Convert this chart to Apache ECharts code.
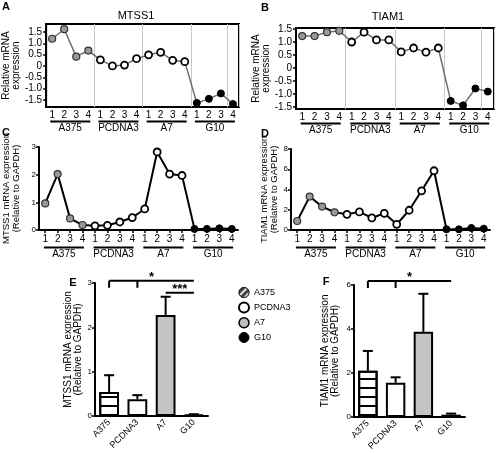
<!DOCTYPE html>
<html><head><meta charset="utf-8">
<script src="https://cdn.jsdelivr.net/npm/echarts@6/dist/echarts.min.js"></script>
<style>html,body{margin:0;padding:0;background:#fff}#c{width:496px;height:453px}</style>
</head><body><div id="c"></div>
<script>
// ---- data ----
const cats = ['1','2','3','4','1','2','3','4','1','2','3','4','1','2','3','4'];
const groups = ['A375','PCDNA3','A7','G10'];
const mtss1Rel = [1.2,1.62,0.41,0.68, 0.27,0.0,0.04,0.32, 0.49,0.6,0.25,0.19, -1.63,-1.45,-1.21,-1.68];
const tiam1Rel = [1.23,1.23,1.38,1.43, 1.0,1.38,1.08,1.08, 0.62,0.77,0.61,0.77, -1.27,-1.44,-0.79,-0.91];
const mtss1Gapdh = [0.96,2.02,0.42,0.18, 0.15,0.17,0.29,0.45, 0.76,2.82,2.02,1.97, 0.04,0.04,0.06,0.04];
const tiam1Gapdh = [0.89,3.3,2.31,1.75, 1.55,1.79,1.19,1.65, 0.56,1.95,3.87,5.85, 0.07,0.07,0.2,0.13];
const mtss1Mean = [0.54,0.38,2.28,0.03];
const mtss1Sd   = [0.38,0.09,0.41,0.01];
const tiam1Mean = [2.1,1.55,3.87,0.1];
const tiam1Sd   = [0.9,0.25,1.73,0.05];
const relTicks = [-1.5,-1,-0.5,0,0.5,1,1.5];
const sigE = [{from:0,to:3,drops:[0,1],level:3.05,label:'*'},{from:2,to:3,drops:[],level:2.78,label:'***'}];
const sigF = [{from:0,to:3,drops:[0,1],level:6.18,label:'*'}];

// ---- styles ----
const FONT = 'Liberation Sans, Arial, sans-serif';
const markerStyles = [
  {color:'#999', borderColor:'#333', borderWidth:1.2},
  {color:'#fff', borderColor:'#000', borderWidth:1.8},
  {color:'#fff', borderColor:'#000', borderWidth:1.8},
  {color:'#000', borderColor:'#000', borderWidth:1}
];
const stripeDecal = {symbol:'rect', symbolSize:1, color:'#000', dashArrayX:[1,0], dashArrayY:[2,7], rotation:0};
const barStyles = [
  {color:'#fff', borderColor:'#000', borderWidth:2, decal: stripeDecal},
  {color:'#fff', borderColor:'#000', borderWidth:2},
  {color:'#c4c4c4', borderColor:'#000', borderWidth:2},
  {color:'#000', borderColor:'#000', borderWidth:2}
];
const legendStyles = [
  {color:'#444', borderColor:'#222', borderWidth:1, decal:{symbol:'rect', symbolSize:1, color:'rgba(255,255,255,0.85)', dashArrayX:[1,0], dashArrayY:[1.5,2.5], rotation:-Math.PI/4}},
  {color:'#fff', borderColor:'#000', borderWidth:2},
  {color:'#bdbdbd', borderColor:'#000', borderWidth:1.5},
  {color:'#000', borderColor:'#000', borderWidth:1}
];

const grids = [
  {left:38, top:24, width:201, height:83, show:true, borderColor:'#000', borderWidth:2},
  {left:296, top:28, width:198, height:81, show:true, borderColor:'#000', borderWidth:2},
  {left:38, top:147, width:200, height:83},
  {left:291, top:149, width:199, height:81},
  {left:95, top:283, width:113, height:133},
  {left:354, top:285, width:111, height:132}
];

function tickAxis(gi, boxed, labelMargin){
  return {type:'category', gridIndex:gi, data:cats, boundaryGap:true,
    axisLine:{show:!boxed, lineStyle:{color:'#000', width:2}},
    axisTick:{show:!boxed, alignWithLabel:true, length:3, lineStyle:{color:'#000', width:1.5}},
    axisLabel:{interval:0, margin:labelMargin, fontSize:10, color:'#000', fontFamily:FONT},
    splitLine:{show:boxed, interval:3, lineStyle:{color:'#c8c8c8', width:1}}};
}
function groupAxis(gi, margin){
  return {type:'category', gridIndex:gi, position:'bottom', data:groups, boundaryGap:true,
    axisLine:{show:false}, axisTick:{show:false}, splitLine:{show:false},
    axisLabel:{interval:0, margin:margin, color:'#000', fontFamily:FONT,
      formatter: v => '{u| }\n{n|' + v + '}',
      rich:{u:{width:40, height:2, lineHeight:3, fontSize:1, backgroundColor:'#000', align:'center'},
            n:{fontSize:10, lineHeight:11, color:'#000', fontFamily:FONT, align:'center'}}}};
}
function barXAxis(gi){
  return {type:'category', gridIndex:gi, data:groups, boundaryGap:true,
    axisLine:{show:true, lineStyle:{color:'#000', width:2}}, axisTick:{show:false},
    axisLabel:{interval:0, rotate:45, margin:5, fontSize:9, color:'#000', fontFamily:FONT},
    splitLine:{show:false}};
}
function relYAxis(gi, min, max, gap){
  return {type:'value', gridIndex:gi, min:min, max:max,
    axisLine:{show:true, lineStyle:{color:'#000', width:2}},
    axisTick:{show:true, length:3, customValues:relTicks, lineStyle:{color:'#000', width:1.5}},
    axisLabel:{customValues:relTicks, margin:4, fontSize:10, color:'#000', fontFamily:FONT,
      formatter: v => v === 0 ? '0' : v.toFixed(1)},
    splitLine:{show:false},
    name:'Relative mRNA\nexpression', nameLocation:'middle', nameGap:gap, nameRotate:90,
    nameTextStyle:{fontSize:10, lineHeight:10, color:'#000', fontFamily:FONT}};
}
function gapdhYAxis(gi, max, interval, gap, gene, fs){
  return {type:'value', gridIndex:gi, min:0, max:max, interval:interval,
    axisLine:{show:true, lineStyle:{color:'#000', width:2}},
    axisTick:{show:true, length:3, lineStyle:{color:'#000', width:1.5}},
    axisLabel:{margin:3, fontSize:8, color:'#000', fontFamily:FONT},
    splitLine:{show:false},
    name: gene + ' mRNA expression\n(Relative to GAPDH)', nameLocation:'middle', nameGap:gap, nameRotate:90,
    nameTextStyle:{fontSize:fs, lineHeight:10, color:'#000', fontFamily:FONT}};
}

function lineSeries(xi, yi, values, lineColor, lineWidth){
  return {type:'line', xAxisIndex:xi, yAxisIndex:yi, symbol:'circle', symbolSize:7,
    lineStyle:{color:lineColor, width:lineWidth}, z:5,
    data: values.map((v,i) => ({value:v, itemStyle: markerStyles[Math.floor(i/4)]}))};
}
function barSeries(xi, yi, means){
  return groups.map((g,i) => ({name:g, type:'bar', xAxisIndex:xi, yAxisIndex:yi, barGap:'-100%', barWidth:'70%',
    itemStyle: barStyles[i], data: means.map((v,j) => j === i ? v : '-')}));
}
function errSeries(xi, yi, means, sds){
  return {type:'custom', xAxisIndex:xi, yAxisIndex:yi, z:1,
    data: means.map((m,i) => [i, m, m + sds[i]]),
    encode:{x:0, y:[1,2]},
    renderItem:(params, api) => {
      const b = api.coord([api.value(0), api.value(1)]);
      const t = api.coord([api.value(0), api.value(2)]);
      return {type:'group', children:[
        {type:'line', shape:{x1:b[0], y1:b[1], x2:t[0], y2:t[1]}, style:{stroke:'#000', lineWidth:2}},
        {type:'line', shape:{x1:t[0]-5, y1:t[1], x2:t[0]+5, y2:t[1]}, style:{stroke:'#000', lineWidth:2}}
      ]};
    }};
}
function sigSeries(xi, yi, sig){
  return {type:'custom', xAxisIndex:xi, yAxisIndex:yi, z:3, clip:false,
    data: sig.map(s => [s.from, s.level]),
    encode:{x:0, y:1},
    renderItem:(params, api) => {
      const s = sig[params.dataIndex];
      const p0 = api.coord([s.from, s.level]);
      const p1 = api.coord([s.to, s.level]);
      const ch = [{type:'line', shape:{x1:p0[0], y1:p0[1], x2:p1[0], y2:p1[1]}, style:{stroke:'#000', lineWidth:2}}];
      s.drops.forEach(d => {
        const pd = api.coord([d, s.level]);
        ch.push({type:'line', shape:{x1:pd[0], y1:pd[1], x2:pd[0], y2:pd[1]+7}, style:{stroke:'#000', lineWidth:2}});
      });
      ch.push({type:'text', x:(p0[0]+p1[0])/2, y:p0[1]+3,
        style:{text:s.label, fontSize:13, fontWeight:'bold', fontFamily:FONT, align:'center', verticalAlign:'bottom', fill:'#000'}});
      return {type:'group', children:ch};
    }};
}

const chart = echarts.init(document.getElementById('c'), null, {renderer:'canvas'});
const letter = (t,x,y) => ({type:'text', x:x, y:y, style:{text:t, font:'bold 11px ' + FONT, fill:'#000', align:'center', verticalAlign:'middle'}});
const title = (t,x,y) => ({type:'text', x:x, y:y, style:{text:t, font:'11px ' + FONT, fill:'#000', align:'center', verticalAlign:'middle'}});

chart.setOption({
  animation:false,
  textStyle:{fontFamily:FONT},
  graphic:[letter('A',6,7), letter('B',265,8), letter('C',6,133), letter('D',265,134), letter('E',73,283), letter('F',326,282),
           title('MTSS1',136,16), title('TIAM1',388,17)],
  legend:{orient:'vertical', left:233, top:282, itemWidth:10, itemHeight:10, itemGap:3.5, icon:'circle', selectedMode:false,
    textStyle:{fontSize:9, color:'#000', fontFamily:FONT},
    data: groups.map((g,i) => ({name:g, itemStyle:legendStyles[i]}))},
  grid: grids,
  xAxis:[tickAxis(0,true,3), groupAxis(0,13), tickAxis(1,true,3), groupAxis(1,13),
         tickAxis(2,false,4), groupAxis(2,16), tickAxis(3,false,4), groupAxis(3,16),
         barXAxis(4), barXAxis(5)],
  yAxis:[relYAxis(0,-1.81,1.85,14), relYAxis(1,-1.58,1.54,24),
         gapdhYAxis(2,3,1,18,'MTSS1',9.5), gapdhYAxis(3,8,2,12,'TIAM1',9.5),
         gapdhYAxis(4,3,1,10,'MTSS1',10), gapdhYAxis(5,6,2,14,'TIAM1',10)],
  series:[].concat(
    barSeries(8,4,mtss1Mean), barSeries(9,5,tiam1Mean),
    [errSeries(8,4,mtss1Mean,mtss1Sd), errSeries(9,5,tiam1Mean,tiam1Sd),
     sigSeries(8,4,sigE), sigSeries(9,5,sigF),
     lineSeries(0,0,mtss1Rel,'#6e6e6e',1.5), lineSeries(2,1,tiam1Rel,'#6e6e6e',1.5),
     lineSeries(4,2,mtss1Gapdh,'#000',2), lineSeries(6,3,tiam1Gapdh,'#000',2)])
});
</script></body></html>
